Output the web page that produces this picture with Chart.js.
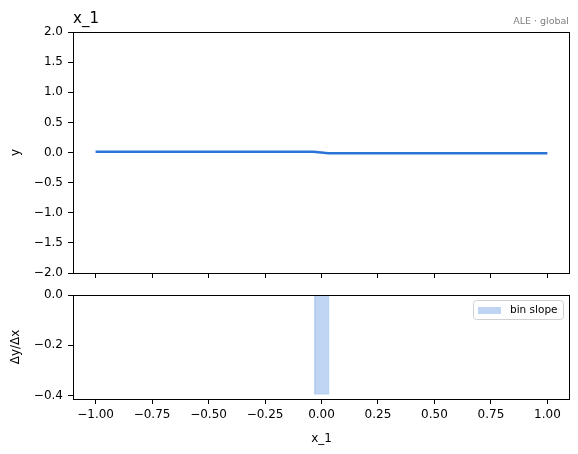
<!DOCTYPE html>
<html>
<head>
<meta charset="utf-8">
<script src="https://cdn.jsdelivr.net/npm/chart.js@4.4.1/dist/chart.umd.min.js"></script>
<style>
  body { margin: 0; background: #fff; }
  #wrap { position: relative; width: 578px; height: 454px; }
  canvas { position: absolute; left: 0; }
</style>
</head>
<body>
<div id="wrap">
  <canvas id="top" width="578" height="290" style="top:0"></canvas>
  <canvas id="bottom" width="578" height="179" style="top:275px"></canvas>
</div>
<script>
/* Values */
const xTicks = [-1, -0.75, -0.5, -0.25, 0, 0.25, 0.5, 0.75, 1];
const topYTicks = [-2, -1.5, -1, -0.5, 0, 0.5, 1, 1.5, 2];
const bottomYTicks = [-0.4, -0.2, 0];
const aleX = [-1, -0.5, -0.035, 0.03, 0.5, 1];
const aleY = [0.012, 0.012, 0.012, -0.012, -0.012, -0.012];
const binEdges = [-0.03, 0.033];
const binSlope = [-0.394];

const FONT = 'DejaVu Sans';
const BLUE = '#2a74d8';

function minus(s) { return s.replace('-', '\u2212'); }

/* Force an axis box to a fixed size so both panels line up */
function fixedSize(w, h) {
    return function(scale) {
        if (w != null) scale.width = w;
        if (h != null) scale.height = h;
    };
}

function setTicks(list) {
    return function(scale) { scale.ticks = list.map(v => ({ value: v })); };
}

const tickGrid = {
    drawOnChartArea: false,
    drawTicks: true,
    tickLength: 5,
    tickColor: '#000',
    tickWidth: 1,
    color: '#000'
};

/* Black box round the plot area, as matplotlib draws its spines */
const framePlugin = {
    id: 'frame',
    afterDraw(chart) {
        const a = chart.chartArea;
        const ctx = chart.ctx;
        ctx.save();
        ctx.strokeStyle = '#000';
        ctx.lineWidth = 1;
        ctx.strokeRect(Math.floor(a.left) + 0.5, Math.floor(a.top) + 0.5,
            Math.round(a.right - a.left) - 1, Math.round(a.bottom - a.top));
        ctx.restore();
    }
};

/* Panel title and corner note */
const headPlugin = {
    id: 'head',
    afterDraw(chart) {
        const a = chart.chartArea;
        const ctx = chart.ctx;
        ctx.save();
        ctx.textBaseline = 'alphabetic';
        ctx.fillStyle = '#000';
        ctx.font = '15px "' + FONT + '"';
        ctx.textAlign = 'left';
        ctx.fillText('x_1', a.left, a.top - 9);
        ctx.fillStyle = '#808080';
        ctx.font = '9.5px "' + FONT + '"';
        ctx.textAlign = 'right';
        ctx.fillText('ALE \u00b7 global', a.right - 1, a.top - 8);
        ctx.restore();
    }
};

/* matplotlib-like legend box in the upper right of the lower panel */
const legendPlugin = {
    id: 'mplLegend',
    afterDraw(chart) {
        const a = chart.chartArea;
        const ctx = chart.ctx;
        const ds = chart.data.datasets[0];
        const w = 90, h = 19;
        const x = a.right - 7 - w, y = a.top + 5;
        ctx.save();
        ctx.beginPath();
        ctx.roundRect(x + 0.5, y + 0.5, w, h, 3);
        ctx.fillStyle = 'rgba(255,255,255,0.8)';
        ctx.fill();
        ctx.strokeStyle = '#d0d0d0';
        ctx.lineWidth = 1;
        ctx.stroke();
        ctx.fillStyle = ds.backgroundColor;
        ctx.fillRect(x + 5, y + 7, 23, 7);
        ctx.fillStyle = '#000';
        ctx.font = '10.5px "' + FONT + '"';
        ctx.textAlign = 'left';
        ctx.textBaseline = 'middle';
        ctx.fillText(ds.label, x + 37, y + 10.5);
        ctx.restore();
    }
};

Chart.defaults.font.family = FONT;
Chart.defaults.color = '#000';

const aleData = aleX.map((x, i) => ({ x: x, y: aleY[i] }));

new Chart(document.getElementById('top'), {
    type: 'line',
    data: {
        datasets: [{
            label: 'ALE',
            data: aleData,
            borderColor: BLUE,
            borderWidth: 2.5,
            pointRadius: 0,
            tension: 0,
            fill: false
        }]
    },
    options: {
        responsive: false,
        animation: false,
        layout: { padding: { top: 32, left: 0, right: 8, bottom: 0 } },
        plugins: { legend: { display: false }, tooltip: { enabled: false } },
        scales: {
            x: {
                type: 'linear', min: -1.1, max: 1.1,
                afterBuildTicks: setTicks(xTicks),
                afterFit: fixedSize(null, 17),
                ticks: { autoSkip: false, callback: () => '' },
                grid: tickGrid,
                border: { display: false }
            },
            y: {
                type: 'linear', min: -2, max: 2,
                afterBuildTicks: setTicks(topYTicks),
                afterFit: fixedSize(73, null),
                ticks: { autoSkip: false, padding: 5, font: { size: 12 },
                    callback: v => minus(v.toFixed(1)) },
                grid: tickGrid,
                border: { display: false },
                title: { display: true, text: 'y', font: { size: 12 }, padding: { top: 9, bottom: 0 } }
            }
        }
    },
    plugins: [framePlugin, headPlugin]
});

/* bin slope drawn as a filled outline over the bin edges */
const binData = [];
binSlope.forEach((s, i) => {
    binData.push({ x: binEdges[i], y: 0 });
    binData.push({ x: binEdges[i], y: s });
    binData.push({ x: binEdges[i + 1], y: s });
    binData.push({ x: binEdges[i + 1], y: 0 });
});

new Chart(document.getElementById('bottom'), {
    type: 'line',
    data: {
        datasets: [{
            label: 'bin slope',
            data: binData,
            borderColor: 'rgba(42,116,216,0.12)',
            backgroundColor: 'rgba(42,116,216,0.3)',
            borderWidth: 1,
            pointRadius: 0,
            tension: 0,
            fill: 'origin'
        }]
    },
    options: {
        responsive: false,
        animation: false,
        layout: { padding: { top: 20, left: 0, right: 8, bottom: 0 } },
        plugins: { legend: { display: false }, tooltip: { enabled: false } },
        scales: {
            x: {
                type: 'linear', min: -1.1, max: 1.1,
                afterBuildTicks: setTicks(xTicks),
                afterFit: fixedSize(null, 55),
                ticks: { autoSkip: false, maxRotation: 0, padding: 4, font: { size: 12 },
                    callback: v => minus(v.toFixed(2)) },
                grid: tickGrid,
                border: { display: false },
                title: { display: true, text: 'x_1', font: { size: 12 }, padding: { top: 0, bottom: 8 } }
            },
            y: {
                type: 'linear', min: -0.413, max: 0,
                afterBuildTicks: setTicks(bottomYTicks),
                afterFit: fixedSize(73, null),
                ticks: { autoSkip: false, padding: 5, font: { size: 12 },
                    callback: v => minus(v.toFixed(1)) },
                grid: tickGrid,
                border: { display: false },
                title: { display: true, text: '\u0394y/\u0394x', font: { size: 12 }, padding: { top: 9, bottom: 0 } }
            }
        }
    },
    plugins: [framePlugin, legendPlugin]
});
</script>
</body>
</html>
